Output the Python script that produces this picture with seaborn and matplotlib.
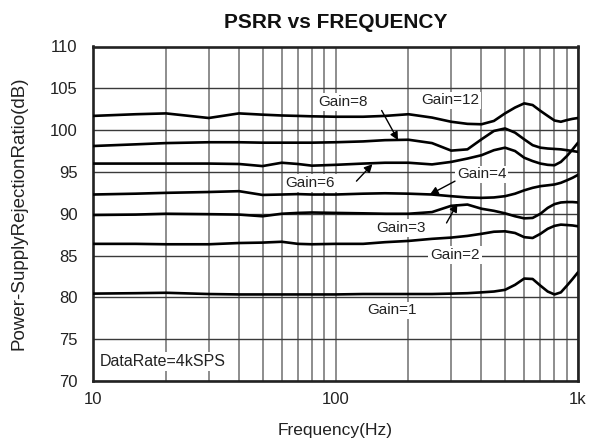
#!/usr/bin/env python3
from __future__ import annotations

import matplotlib

matplotlib.use("Agg")
import matplotlib.pyplot as plt
import matplotlib.ticker as mticker
import pandas as pd
import seaborn as sns


# frequency grid in Hz
FREQ_HZ = [10, 15, 20, 30, 40, 50, 60, 70, 80, 100, 130, 160, 200, 250, 300,
           350, 400, 450, 500, 550, 600, 650, 700, 750, 800, 850, 900, 950, 1000]

GAIN_12 = [101.7, 101.9, 102.0, 101.45, 102.0, 101.85, 101.75, 101.7, 101.65, 101.6,
           101.6, 101.7, 101.9, 101.5, 101.0, 100.75, 100.7, 101.1, 102.0, 102.7,
           103.2, 103.0, 102.3, 101.7, 101.15, 101.0, 101.2, 101.35, 101.45]
GAIN_8 = [98.1, 98.3, 98.45, 98.55, 98.55, 98.5, 98.5, 98.5, 98.5, 98.55,
          98.65, 98.8, 98.85, 98.45, 97.55, 97.7, 98.9, 99.9, 100.2, 99.7,
          98.9, 98.2, 97.9, 97.8, 97.75, 97.7, 97.6, 97.5, 97.4]
GAIN_6 = [96.0, 96.0, 96.0, 96.0, 95.95, 95.7, 96.1, 95.95, 95.75, 95.85,
          96.0, 96.1, 96.1, 95.9, 96.2, 96.6, 97.0, 97.6, 97.9, 97.5,
          96.7, 96.3, 96.0, 95.85, 95.8, 96.2, 96.9, 97.7, 98.5]
GAIN_4 = [92.3, 92.4, 92.5, 92.6, 92.7, 92.25, 92.3, 92.35, 92.3, 92.3,
          92.4, 92.45, 92.4, 92.3, 92.1, 91.95, 91.9, 91.95, 92.1, 92.4,
          92.8, 93.1, 93.3, 93.4, 93.5, 93.7, 94.0, 94.3, 94.65]
GAIN_3 = [89.85, 89.9, 90.0, 89.95, 89.9, 89.7, 90.0, 90.1, 90.15, 90.1,
          90.05, 90.0, 90.0, 90.2, 90.95, 91.1, 90.6, 90.35, 90.05, 89.7,
          89.45, 89.5, 90.0, 90.7, 91.15, 91.35, 91.4, 91.4, 91.35]
GAIN_2 = [86.4, 86.4, 86.35, 86.35, 86.5, 86.55, 86.65, 86.4, 86.35, 86.4,
          86.4, 86.6, 86.75, 87.0, 87.15, 87.35, 87.6, 87.85, 87.9, 87.7,
          87.2, 87.1, 87.6, 88.2, 88.55, 88.7, 88.65, 88.6, 88.5]
GAIN_1 = [80.45, 80.5, 80.55, 80.4, 80.35, 80.35, 80.35, 80.35, 80.35, 80.35,
          80.4, 80.4, 80.4, 80.4, 80.45, 80.5, 80.6, 80.7, 80.9, 81.5,
          82.25, 82.2, 81.4, 80.7, 80.35, 80.6, 81.4, 82.2, 83.0]

SERIES = {
    "Gain=12": GAIN_12,
    "Gain=8": GAIN_8,
    "Gain=6": GAIN_6,
    "Gain=4": GAIN_4,
    "Gain=3": GAIN_3,
    "Gain=2": GAIN_2,
    "Gain=1": GAIN_1,
}

X_TICKS = [10, 100, 1000]
X_TICK_LABELS = ["10", "100", "1k"]
Y_TICKS = [70, 75, 80, 85, 90, 95, 100, 105, 110]

# (text, freq, dB) for the curve labels
CURVE_LABELS = [
    ("Gain=12", 297, 103.55),
    ("Gain=8", 107, 103.4),
    ("Gain=6", 78.5, 93.7),
    ("Gain=4", 401, 94.7),
    ("Gain=3", 186, 88.3),
    ("Gain=2", 311, 85.1),
    ("Gain=1", 171, 78.45),
]
# (tail, tip) of the pointer arrows
ARROWS = [
    ((155, 102.35), (181, 98.8)),
    ((122, 93.9), (142, 95.93)),
    ((311, 93.9), (245, 92.3)),
    ((287, 88.9), (318, 91.2)),
]


def _long_table() -> pd.DataFrame:
    rows = []
    for name, values in SERIES.items():
        for f, v in zip(FREQ_HZ, values):
            rows.append({"gain": name, "freq": f, "psrr": v})
    return pd.DataFrame(rows)


def main() -> int:
    df = _long_table()

    sns.set_theme(style="white")
    plt.rcParams["font.family"] = ["Liberation Sans", "DejaVu Sans"]

    fig = plt.figure(figsize=(5.9, 4.43), dpi=100)
    ax = fig.add_axes([93 / 590, 1 - 381 / 443, 485 / 590, 334.5 / 443])

    sns.lineplot(
        data=df,
        x="freq",
        y="psrr",
        hue="gain",
        palette=["black"] * len(SERIES),
        estimator=None,
        legend=False,
        linewidth=1.9,
        ax=ax,
        zorder=3,
    )

    ax.set_xscale("log")
    ax.set_xlim(10, 1000)
    ax.set_ylim(70, 110)
    ax.xaxis.set_major_locator(mticker.FixedLocator(X_TICKS))
    ax.xaxis.set_major_formatter(mticker.FixedFormatter(X_TICK_LABELS))
    ax.xaxis.set_minor_locator(mticker.LogLocator(base=10, subs=range(2, 10)))
    ax.xaxis.set_minor_formatter(mticker.NullFormatter())
    ax.set_yticks(Y_TICKS)

    ax.grid(which="both", axis="x", color="#7a7a7a", linewidth=1.2)
    ax.grid(which="major", axis="y", color="#3a3a3a", linewidth=1.0)
    ax.set_axisbelow(True)
    ax.tick_params(which="both", length=0)
    ax.tick_params(axis="x", pad=8, labelsize=12, colors="#222222")
    ax.tick_params(axis="y", pad=11, labelsize=12, colors="#222222")
    for sp in ax.spines.values():
        sp.set_color("#222222")
        sp.set_linewidth(1.9)

    ax.set_xlabel("Frequency(Hz)", fontsize=12.5, color="#222222")
    ax.set_ylabel("Power-SupplyRejectionRatio(dB)", fontsize=13.5, color="#222222")
    ax.xaxis.set_label_coords(0.5, -0.125)
    ax.yaxis.set_label_coords(-0.135, 0.5)
    ax.set_title("PSRR vs FREQUENCY", fontsize=15, fontweight="bold", pad=13, color="#111111")

    box = {"boxstyle": "square,pad=0.12", "facecolor": "white", "edgecolor": "none"}
    for text, fx, fy in CURVE_LABELS:
        ax.text(fx, fy, text, ha="center", va="center", fontsize=11,
                color="#222222", bbox=box, zorder=4)
    ax.text(10.7, 72.35, "DataRate=4kSPS", ha="left", va="center", fontsize=11.5,
            color="#222222", bbox=box, zorder=4)

    for tail, tip in ARROWS:
        ax.annotate(
            "",
            xy=tip,
            xytext=tail,
            arrowprops={"arrowstyle": "-|>", "color": "black", "lw": 1.0,
                        "mutation_scale": 12, "shrinkA": 0, "shrinkB": 0},
            zorder=5,
        )

    fig.savefig("out.png", dpi=100)
    plt.close(fig)
    return 0


if __name__ == "__main__":
    raise SystemExit(main())
